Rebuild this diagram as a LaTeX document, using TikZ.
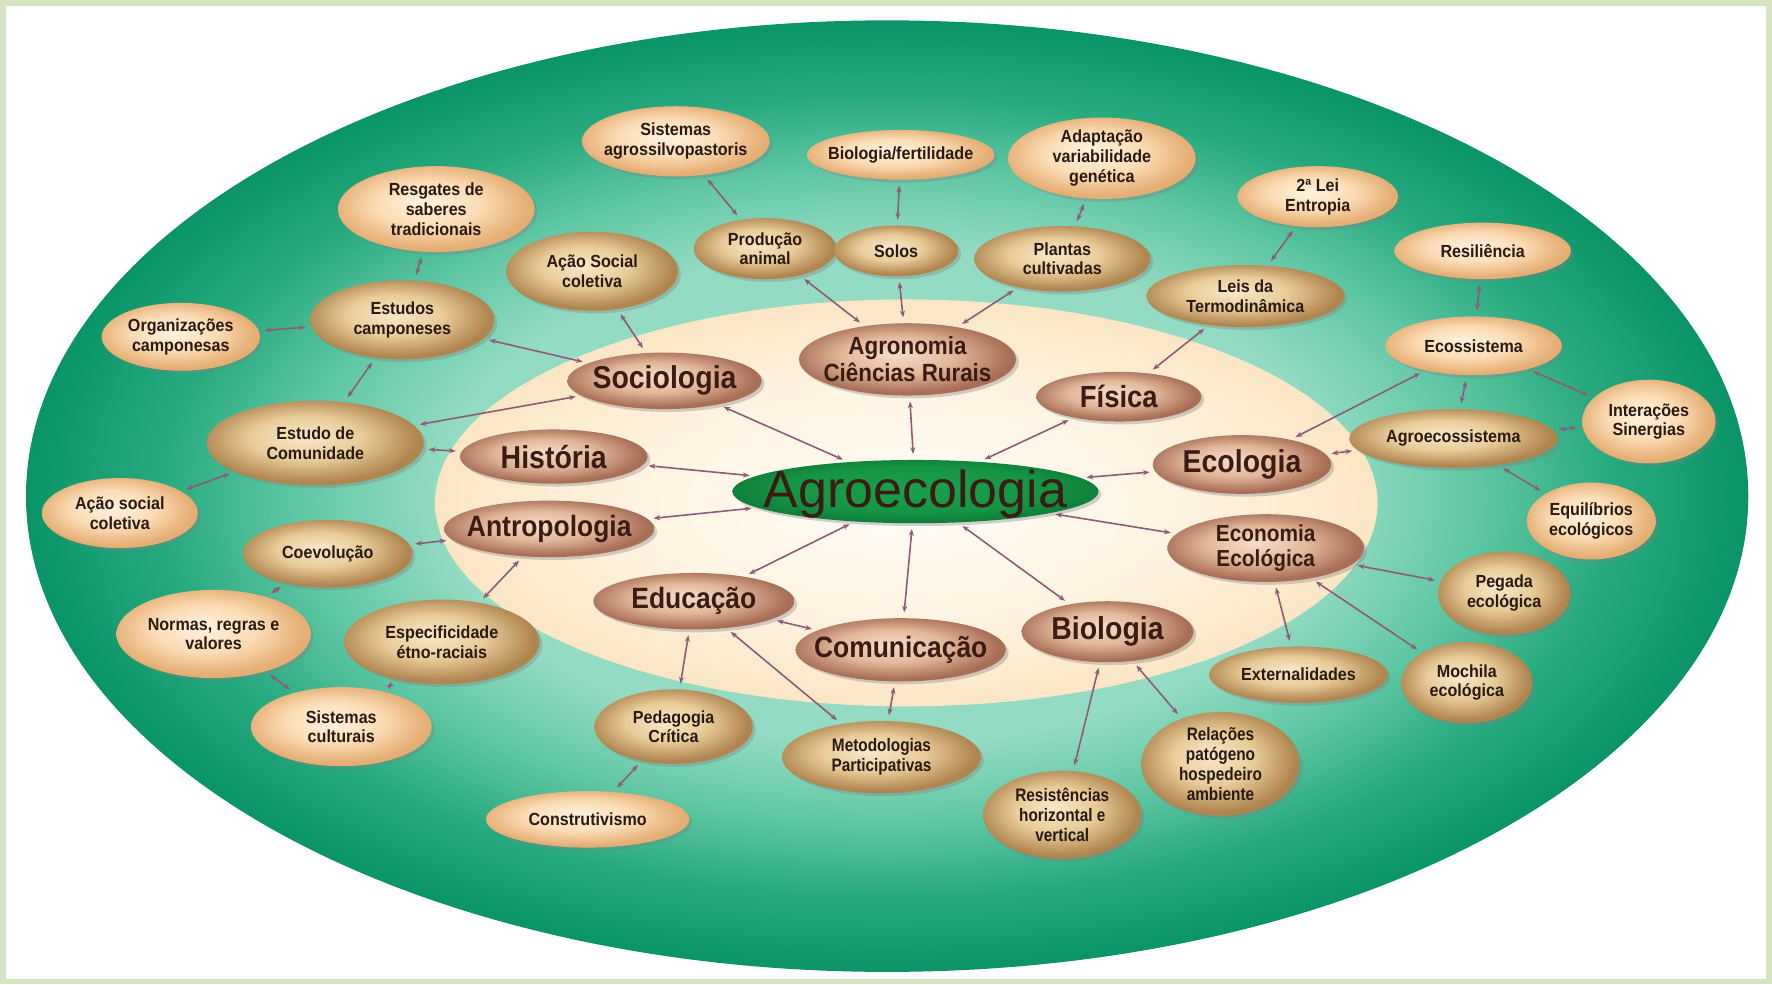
\documentclass[tikz,border=0pt]{standalone}
\usepackage{fontspec}
\setmainfont{Liberation Sans}
\newfontfamily\smf[FakeStretch=0.92]{Liberation Sans}
\newfontfamily\cnf[FakeStretch=0.85]{Liberation Sans}
\newfontfamily\ctf[FakeStretch=0.9]{Liberation Sans}
\usetikzlibrary{shapes.geometric,shadows,arrows.meta}

\definecolor{framec}{HTML}{D6E4C2}
\definecolor{gA}{HTML}{94DBC3}
\definecolor{gB}{HTML}{62C8A6}
\definecolor{gC}{HTML}{28AA7F}
\definecolor{gD}{HTML}{0A9467}
\definecolor{crA}{HTML}{FFFDF8}
\definecolor{crB}{HTML}{FEF4E2}
\definecolor{crC}{HTML}{FBE6C4}
\definecolor{leafA}{HTML}{FFF3E0}
\definecolor{leafB}{HTML}{FBDDB6}
\definecolor{leafC}{HTML}{E5AE74}
\definecolor{midA}{HTML}{F8E8CA}
\definecolor{midB}{HTML}{E8CB98}
\definecolor{midC}{HTML}{B08650}
\definecolor{catA}{HTML}{F6DDCA}
\definecolor{catB}{HTML}{E2B89A}
\definecolor{catC}{HTML}{A86F57}
\definecolor{agA}{HTML}{1AA04C}
\definecolor{agB}{HTML}{159544}
\definecolor{agC}{HTML}{0E8039}
\definecolor{txtc}{HTML}{2A1A10}
\definecolor{cattxt}{HTML}{3A1C12}
\definecolor{conc}{HTML}{8E5A76}

\pgfdeclareradialshading{greensh}{\pgfpoint{0bp}{0bp}}{color(0bp)=(gA); color(13bp)=(gA); color(17bp)=(gB); color(21bp)=(gC); color(25bp)=(gD); color(50bp)=(gD)}
\pgfdeclareradialshading{creamsh}{\pgfpoint{0bp}{0bp}}{color(0bp)=(crA); color(14bp)=(crB); color(25bp)=(crC); color(50bp)=(crC)}
\pgfdeclareradialshading{leafsh}{\pgfpoint{-3bp}{4bp}}{color(0bp)=(leafA); color(13bp)=(leafB); color(25bp)=(leafC); color(50bp)=(leafC)}
\pgfdeclareradialshading{midsh}{\pgfpoint{-3bp}{4bp}}{color(0bp)=(midA); color(13bp)=(midB); color(25bp)=(midC); color(50bp)=(midC)}
\pgfdeclareradialshading{catsh}{\pgfpoint{-3bp}{4bp}}{color(0bp)=(catA); color(13bp)=(catB); color(25bp)=(catC); color(50bp)=(catC)}
\pgfdeclareradialshading{agsh}{\pgfpoint{0bp}{3bp}}{color(0bp)=(agA); color(18bp)=(agB); color(25bp)=(agC); color(50bp)=(agC)}

\newcommand\bub[8]{%
  \node[#2, minimum width=#5pt, minimum height=#6pt] (#1) at (#3,#4) {};
  \node[#7] (#1-t) at (#1.center) {#8};}

\begin{document}
\begin{tikzpicture}[x=1pt,y=-1pt,
  bub/.style={ellipse, inner sep=0pt,
    drop shadow={shadow xshift=2.5pt, shadow yshift=-2.5pt, opacity=0.35}},
  leaf/.style={bub, shading=leafsh},
  mid/.style={bub, shading=midsh},
  cat/.style={bub, shading=catsh},
  agst/.style={bub, shading=agsh},
  lt/.style={align=center, inner sep=0pt, text=txtc,
    font=\smf\bfseries\fontsize{15.5}{17.5}\selectfont},
  ct/.style={align=center, inner sep=0pt, text=txtc,
    font=\cnf\bfseries\fontsize{16}{17.5}\selectfont},
  kt/.style={align=center, inner sep=0pt, text=cattxt,
    font=\ctf\bfseries\fontsize{#1}{#1}\selectfont},
  kt2/.style 2 args={align=center, inner sep=0pt, text=cattxt,
    font=\ctf\bfseries\fontsize{#1}{#2}\selectfont},
  con/.style={draw=conc, line width=1.4pt, >={Stealth[length=6pt,width=4.5pt]}, <->,
    shorten <=5pt, shorten >=5pt}
]
\useasboundingbox (0,0) rectangle (1568,871);
\fill[framec] (0,0) rectangle (1568,871);
\fill[white] (5,5) rectangle (1563,866);
\path[shading=greensh] (785,439) ellipse [x radius=762, y radius=421];
\path[shading=creamsh] (802,445) ellipse [x radius=417, y radius=180];

% leaves
\bub{sap}{leaf}{598}{125}{166}{62}{lt}{Sistemas\\agrossilvopastoris}
\bub{biof}{leaf}{797}{137}{166}{44}{lt}{Biologia/fertilidade}
\bub{adap}{leaf}{975}{140}{166}{72}{lt}{Adaptação\\variabilidade\\genética}
\bub{resg}{leaf}{386}{185}{174}{76}{lt}{Resgates de\\saberes\\tradicionais}
\bub{lei2}{leaf}{1166}{174}{142}{54}{lt}{2ª Lei\\Entropia}
\bub{resil}{leaf}{1312}{222}{156}{50}{lt}{Resiliência}
\bub{org}{leaf}{160}{298}{140}{60}{lt}{Organizações\\camponesas}
\bub{ecos}{leaf}{1304}{306}{156}{52}{lt}{Ecossistema}
\bub{inter}{leaf}{1459}{373}{118}{74}{lt}{Interações\\Sinergias}
\bub{asocb}{leaf}{106}{454}{138}{62}{lt}{Ação social\\coletiva}
\bub{equil}{leaf}{1408}{461}{114}{68}{lt}{Equilíbrios\\ecológicos}
\bub{norm}{leaf}{189}{561}{172}{78}{lt}{Normas, regras e\\valores}
\bub{sisc}{leaf}{302}{643}{160}{70}{lt}{Sistemas\\culturais}
\bub{constr}{leaf}{520}{725}{180}{50}{lt}{Construtivismo}

% mid
\bub{asoc}{mid}{524}{240}{152}{70}{lt}{Ação Social\\coletiva}
\bub{prod}{mid}{677}{220}{126}{54}{lt}{Produção\\animal}
\bub{solos}{mid}{793}{222}{110}{45}{lt}{Solos}
\bub{plant}{mid}{940}{229}{156}{58}{lt}{Plantas\\cultivadas}
\bub{leis}{mid}{1102}{262}{175}{55}{lt}{Leis da\\Termodinâmica}
\bub{estc}{mid}{356}{283}{163}{70}{lt}{Estudos\\camponeses}
\bub{estcom}{mid}{279}{392}{192}{75}{lt}{Estudo de\\Comunidade}
\bub{agroecos}{mid}{1286}{388}{184}{52}{lt}{Agroecossistema}
\bub{coev}{mid}{290}{490}{150}{60}{lt}{Coevolução}
\bub{espec}{mid}{391}{568}{173}{75}{lt}{Especificidade\\étno-raciais}
\bub{pegada}{mid}{1331}{525}{117}{74}{lt}{Pegada\\ecológica}
\bub{extern}{mid}{1149}{597}{158}{50}{lt}{Externalidades}
\bub{mochila}{mid}{1298}{604}{116}{72}{lt}{Mochila\\ecológica}
\bub{pedag}{mid}{596}{643}{140}{66}{lt}{Pedagogia\\Crítica}
\bub{metod}{mid}{780}{670}{176}{64}{ct}{Metodologias\\Participativas}
\bub{relac}{mid}{1080}{676}{140}{92}{ct}{Relações\\patógeno\\hospedeiro\\ambiente}
\bub{resist}{mid}{940}{721}{140}{78}{ct}{Resistências\\horizontal e\\vertical}

% categories
\bub{soc}{cat}{588}{337}{172}{50}{kt=28}{Sociologia}
\bub{agron}{cat}{803}{318}{192}{64}{kt2={22}{24}}{Agronomia\\Ciências Rurais}
\bub{fis}{cat}{990}{351}{146}{44}{kt=27}{Física}
\bub{hist}{cat}{490}{404}{166}{48}{kt=28}{História}
\bub{ecol}{cat}{1099}{411}{158}{52}{kt=28}{Ecologia}
\bub{antro}{cat}{486}{468}{186}{50}{kt=26}{Antropologia}
\bub{econ}{cat}{1120}{485}{174}{60}{kt2={20.5}{22}}{Economia\\Ecológica}
\bub{educ}{cat}{614}{532}{178}{50}{kt=26}{Educação}
\bub{comun}{cat}{797}{575}{186}{56}{kt=26}{Comunicação}
\bub{biol}{cat}{980}{559}{152}{54}{kt=28}{Biologia}

% centre
\node[agst, minimum width=324pt, minimum height=56pt] (agro) at (810,435) {};
\node[inner sep=0pt, text=cattxt, font=\fontsize{46}{50}\selectfont] (agro-t) at (810,437) {Agroecologia};

% connectors
\foreach \a/\b in {soc/agro, agron/agro, fis/agro, hist/agro, ecol/agro, antro/agro,
  econ/agro, educ/agro, comun/agro, biol/agro,
  agron/prod, agron/solos, agron/plant, prod/sap, solos/biof, plant/adap,
  soc/asoc, soc/estc, soc/estcom, estc/resg, estc/org, estc/estcom, estcom/hist, estcom/asocb,
  antro/coev, coev/norm, antro/espec, norm/sisc, espec/sisc,
  educ/pedag, pedag/constr, educ/metod, comun/metod, educ/comun,
  biol/resist, biol/relac, econ/extern, econ/mochila, econ/pegada,
  ecol/agroecos, ecol/ecos, agroecos/ecos, ecos/resil, ecos/inter, agroecos/inter, agroecos/equil,
  fis/leis, leis/lei2}
  \draw[con] (\a) -- (\b);
\end{tikzpicture}
\end{document}
